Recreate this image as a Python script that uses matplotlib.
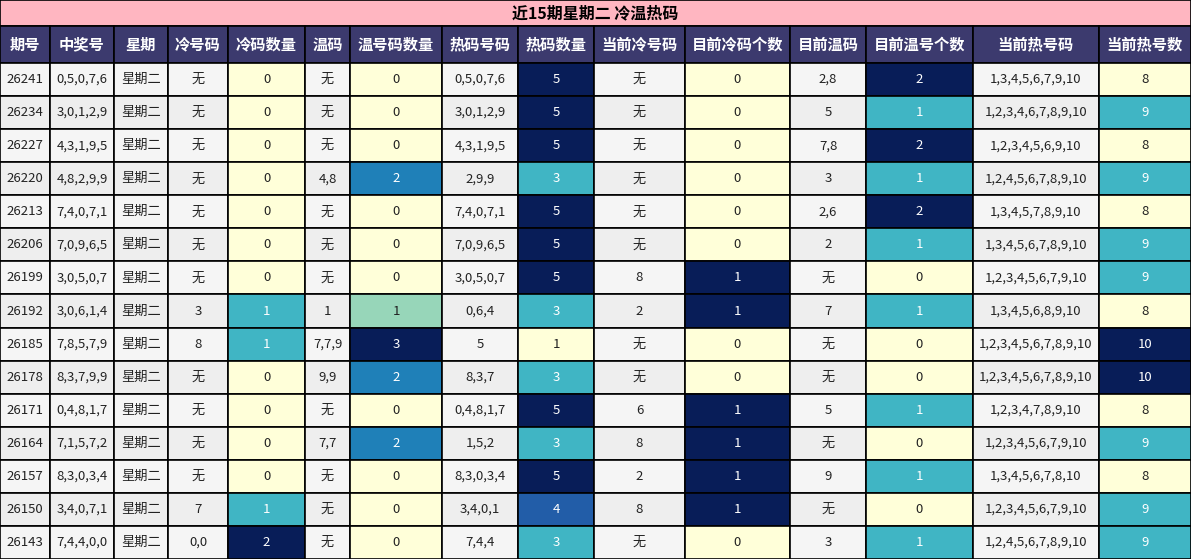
import numpy as np
import matplotlib
matplotlib.use("Agg")
import matplotlib.pyplot as plt
from matplotlib.patches import Rectangle

plt.rcParams['font.family'] = ['Noto Sans CJK SC', 'DejaVu Sans']

TITLE = "近15期星期二 冷温热码"
headers = ["期号", "中奖号", "星期", "冷号码", "冷码数量", "温码", "温号码数量", "热码号码",
           "热码数量", "当前冷号码", "目前冷码个数", "目前温码", "目前温号个数", "当前热号码", "当前热号数"]
col_edges = [0, 50, 114, 168, 228, 305, 350, 442, 518, 594, 685, 790, 866, 973, 1099, 1191]

issue = ["26241", "26234", "26227", "26220", "26213", "26206", "26199", "26192", "26185",
         "26178", "26171", "26164", "26157", "26150", "26143"]
winning = ["0,5,0,7,6", "3,0,1,2,9", "4,3,1,9,5", "4,8,2,9,9", "7,4,0,7,1", "7,0,9,6,5",
           "3,0,5,0,7", "3,0,6,1,4", "7,8,5,7,9", "8,3,7,9,9", "0,4,8,1,7", "7,1,5,7,2",
           "8,3,0,3,4", "3,4,0,7,1", "7,4,4,0,0"]
weekday = ["星期二"] * 15
cold = ["无", "无", "无", "无", "无", "无", "无", "3", "8", "无", "无", "无", "无", "7", "0,0"]
cold_n = [0, 0, 0, 0, 0, 0, 0, 1, 1, 0, 0, 0, 0, 1, 2]
warm = ["无", "无", "无", "4,8", "无", "无", "无", "1", "7,7,9", "9,9", "无", "7,7", "无", "无", "无"]
warm_n = [0, 0, 0, 2, 0, 0, 0, 1, 3, 2, 0, 2, 0, 0, 0]
hot = ["0,5,0,7,6", "3,0,1,2,9", "4,3,1,9,5", "2,9,9", "7,4,0,7,1", "7,0,9,6,5", "3,0,5,0,7",
       "0,6,4", "5", "8,3,7", "0,4,8,1,7", "1,5,2", "8,3,0,3,4", "3,4,0,1", "7,4,4"]
hot_n = [5, 5, 5, 3, 5, 5, 5, 3, 1, 3, 5, 3, 5, 4, 3]
cur_cold = ["无", "无", "无", "无", "无", "无", "8", "2", "无", "无", "6", "8", "2", "8", "无"]
cur_cold_n = [0, 0, 0, 0, 0, 0, 1, 1, 0, 0, 1, 1, 1, 1, 0]
cur_warm = ["2,8", "5", "7,8", "3", "2,6", "2", "无", "7", "无", "无", "5", "无", "9", "无", "3"]
cur_warm_n = [2, 1, 2, 1, 2, 1, 0, 1, 0, 0, 1, 0, 1, 0, 1]
cur_hot = ["1,3,4,5,6,7,9,10", "1,2,3,4,6,7,8,9,10", "1,2,3,4,5,6,9,10", "1,2,4,5,6,7,8,9,10",
           "1,3,4,5,7,8,9,10", "1,3,4,5,6,7,8,9,10", "1,2,3,4,5,6,7,9,10", "1,3,4,5,6,8,9,10",
           "1,2,3,4,5,6,7,8,9,10", "1,2,3,4,5,6,7,8,9,10", "1,2,3,4,7,8,9,10", "1,2,3,4,5,6,7,9,10",
           "1,3,4,5,6,7,8,10", "1,2,3,4,5,6,7,9,10", "1,2,4,5,6,7,8,9,10"]
cur_hot_n = [8, 9, 8, 9, 8, 9, 9, 8, 10, 10, 8, 9, 8, 9, 9]

columns = [issue, winning, weekday, cold, cold_n, warm, warm_n, hot, hot_n,
           cur_cold, cur_cold_n, cur_warm, cur_warm_n, cur_hot, cur_hot_n]
numeric = {4, 6, 8, 10, 12, 14}

W, H = 1191, 559
title_h, head_h = 26, 37
row_h = (H - title_h - head_h) / len(issue)
cmap = plt.get_cmap("YlGnBu")

fig = plt.figure(figsize=(W / 100, H / 100), dpi=100)
ax = fig.add_axes([0, 0, 1, 1])
ax.set_xlim(0, W)
ax.set_ylim(H, 0)
ax.axis("off")

def cell(x0, x1, y0, h, fc, text, tc="#222222", size=9.5, weight="normal"):
    ax.add_patch(Rectangle((x0, y0), x1 - x0, h, facecolor=fc, edgecolor="black", lw=1.2))
    ax.text((x0 + x1) / 2, y0 + h / 2, text, ha="center", va="center",
            color=tc, fontsize=size, fontweight=weight)

cell(0, W, 0, title_h, "#FFB6C1", TITLE, "black", 11.5, "bold")
for j, hd in enumerate(headers):
    cell(col_edges[j], col_edges[j + 1], title_h, head_h, "#3C3A6E", hd, "white", 11, "bold")

for j, col in enumerate(columns):
    if j in numeric:
        vals = np.array(col, dtype=float)
        lo, hi = vals.min(), vals.max()
    for i, v in enumerate(col):
        y0 = title_h + head_h + i * row_h
        if j in numeric:
            t = (v - lo) / (hi - lo) if hi > lo else 0
            fc = cmap(t)
            tc = "white" if t >= 0.5 else "#222222"
        else:
            fc = "#F5F5F5" if i % 2 == 0 else "#EEEEEE"
            tc = "#222222"
        cell(col_edges[j], col_edges[j + 1], y0, row_h, fc, str(v), tc)

fig.savefig("out.png", dpi=100)
